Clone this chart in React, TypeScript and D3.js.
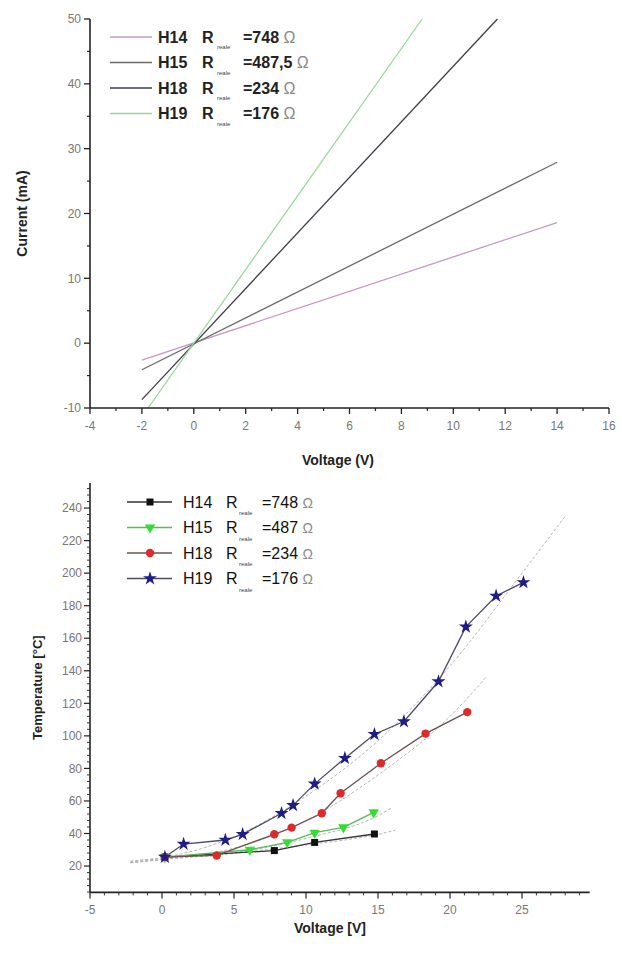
import React from "react";
import * as d3 from "d3";

// ---------- Top chart data (I–V lines) ----------
const ivNames = ["H14", "H15", "H18", "H19"];
const ivResist = ["748", "487,5", "234", "176"];
const ivColors = ["#c49ac4", "#6a6a6a", "#3e3e48", "#98d898"];
const ivVoltage = [
  [-2, 14],
  [-2, 14],
  [-2, 11.7],
  [-1.76, 8.8],
];
const ivCurrent = [
  [-2.6, 18.6],
  [-4.1, 27.9],
  [-8.7, 50],
  [-10, 50],
];
const topXTicks = [-4, -2, 0, 2, 4, 6, 8, 10, 12, 14, 16];
const topYTicks = [-10, 0, 10, 20, 30, 40, 50];

// ---------- Bottom chart data (T–V) ----------
const tNames = ["H14", "H15", "H18", "H19"];
const tResist = ["748", "487", "234", "176"];
const tMarkerColors = ["#111111", "#33dd33", "#dd2a2a", "#1c1c8a"];
const tLineColors = ["#333333", "#55bb55", "#6e5050", "#4a4a66"];
const tVoltage = [
  [0.2, 7.8, 10.6, 14.75],
  [0.2, 6.1, 8.7, 10.6, 12.6, 14.7],
  [0.2, 3.8, 7.8, 9.0, 11.1, 12.4, 15.2, 18.3, 21.2],
  [0.2, 1.5, 4.4, 5.6, 8.3, 9.1, 10.6, 12.7, 14.75, 16.8, 19.2, 21.1, 23.2, 25.1],
];
const tTemp = [
  [25.5, 29.5, 34.5, 39.7],
  [25.5, 30, 34.6, 40.5, 43.8, 53],
  [25.5, 26.5, 39.5, 43.6, 52.4, 64.7, 83.2, 101.4, 114.6],
  [25.5, 33.5, 36, 39.5, 52.4, 57.3, 70.5, 86.3, 101, 108.8, 133.4, 167, 186, 194.3],
];
// fitted (dotted) curves
const fitVoltage = [
  [-2.2, 0, 5, 10, 15, 16.2],
  [-2.2, 0, 5, 10, 15, 16],
  [-2.2, 0, 5, 10, 15, 20, 22.5],
  [-2.2, 0, 5, 10, 15, 20, 25, 28],
];
const fitTemp = [
  [23, 25, 28, 33, 39.5, 42],
  [22, 24, 28, 37, 51, 56],
  [22, 24, 31, 48, 76, 112, 136],
  [22.5, 25, 38, 63, 97, 143, 200, 235],
];
const botXTicks = [-5, 0, 5, 10, 15, 20, 25];
const botYTicks = [20, 40, 60, 80, 100, 120, 140, 160, 180, 200, 220, 240];

const FONT = "'Liberation Sans', Arial, sans-serif";

function Marker({ i, x, y }: { i: number; x: number; y: number }) {
  const c = tMarkerColors[i];
  if (i === 0) return <rect x={x - 3.5} y={y - 3.5} width={7} height={7} fill={c} />;
  if (i === 1)
    return (
      <path
        d={d3.symbol().type(d3.symbolTriangle).size(48)() || ""}
        transform={`translate(${x},${y}) rotate(180)`}
        fill={c}
      />
    );
  if (i === 2) return <circle cx={x} cy={y} r={4.2} fill={c} />;
  return (
    <path
      d={d3.symbol().type(d3.symbolStar).size(60)() || ""}
      transform={`translate(${x},${y})`}
      fill={c}
    />
  );
}

export default function App() {
  // top scales
  const tx = d3.scaleLinear().domain([-4, 16]).range([90, 609]);
  const ty = d3.scaleLinear().domain([-10, 50]).range([408, 19]);
  // bottom scales
  const bx = d3.scaleLinear().domain([-5, 29.7]).range([90, 589.7]);
  const by = d3.scaleLinear().domain([3.8, 255.4]).range([892.4, 483]);

  const topMinorX = d3.range(-3, 16, 2);
  const topMinorY = d3.range(-5, 50, 10);
  const botMinorX = d3.range(-4, 29.7, 1).filter((v) => v % 5 !== 0);
  const botMinorY = d3.range(4, 255.4, 4).filter((v) => v % 20 !== 0);

  const line = d3.line<[number, number]>();
  const fitLine = d3
    .line<[number, number]>()
    .curve(d3.curveMonotoneX)
    .x((d) => bx(d[0]))
    .y((d) => by(d[1]));

  const ty0 = ty(-10);
  const by0 = by(3.8);

  return (
    <svg
      width={622}
      height={953}
      style={{ position: "absolute", left: 0, top: 0, background: "#fff" }}
      fontFamily={FONT}
    >
      <rect width={622} height={953} fill="#fff" />
      {/* ================= TOP CHART ================= */}
      {ivVoltage.map((vs, i) => (
        <path
          key={"iv" + i}
          d={line(vs.map((v, k) => [tx(v), ty(ivCurrent[i][k])] as [number, number])) || ""}
          stroke={ivColors[i]}
          strokeWidth={1.3}
          fill="none"
        />
      ))}
      {/* axes */}
      <line x1={tx(-4)} x2={tx(-4)} y1={ty(50)} y2={ty0} stroke="#222" strokeWidth={1.6} />
      <line x1={tx(-4)} x2={tx(16)} y1={ty0} y2={ty0} stroke="#222" strokeWidth={1.6} />
      {topYTicks.map((v) => (
        <g key={"ty" + v}>
          <line x1={tx(-4) - 6} x2={tx(-4)} y1={ty(v)} y2={ty(v)} stroke="#222" strokeWidth={1.3} />
          <text x={tx(-4) - 9} y={ty(v)} dy="0.35em" textAnchor="end" fontSize={12} fill="#777">
            {v}
          </text>
        </g>
      ))}
      {topMinorY.map((v) => (
        <line key={"tmy" + v} x1={tx(-4) - 3} x2={tx(-4)} y1={ty(v)} y2={ty(v)} stroke="#222" strokeWidth={1.2} />
      ))}
      {topXTicks.map((v) => (
        <g key={"tx" + v}>
          <line x1={tx(v)} x2={tx(v)} y1={ty0} y2={ty0 + 6} stroke="#222" strokeWidth={1.3} />
          <text x={tx(v)} y={ty0 + 22} textAnchor="middle" fontSize={12} fill="#777">
            {v}
          </text>
        </g>
      ))}
      {topMinorX.map((v) => (
        <line key={"tmx" + v} x1={tx(v)} x2={tx(v)} y1={ty0} y2={ty0 + 3} stroke="#222" strokeWidth={1.2} />
      ))}
      <text x={338} y={465} textAnchor="middle" fontSize={14} fontWeight="bold" fill="#222">
        Voltage (V)
      </text>
      <text
        transform={`translate(27,${(ty(50) + ty0) / 2}) rotate(-90)`}
        textAnchor="middle"
        fontSize={14}
        fontWeight="bold"
        fill="#222"
      >
        Current (mA)
      </text>
      {/* top legend */}
      {ivNames.map((n, i) => {
        const y = 37 + i * 25.5;
        return (
          <g key={"tl" + i}>
            <line x1={110} x2={152} y1={y} y2={y} stroke={ivColors[i]} strokeWidth={1.4} />
            <text x={158} y={y} dy="0.36em" fontSize={16} fontWeight="bold" fill="#222">
              {n}
            </text>
            <text x={202} y={y} dy="0.36em" fontSize={16} fontWeight="bold" fill="#222">
              R
            </text>
            <text x={217} y={y + 12} fontSize={6} fill="#444">
              reale
            </text>
            <text x={243} y={y} dy="0.36em" fontSize={16} fontWeight="bold" fill="#222">
              {"=" + ivResist[i] + " "}
              <tspan fontWeight="normal" fill="#888">
                Ω
              </tspan>
            </text>
          </g>
        );
      })}

      {/* ================= BOTTOM CHART ================= */}
      {fitVoltage.map((vs, i) => (
        <path
          key={"fit" + i}
          d={fitLine(vs.map((v, k) => [v, fitTemp[i][k]] as [number, number])) || ""}
          stroke="#b4b4b4"
          strokeWidth={1}
          strokeDasharray="3,2"
          fill="none"
        />
      ))}
      {tVoltage.map((vs, i) => (
        <path
          key={"tl" + i}
          d={line(vs.map((v, k) => [bx(v), by(tTemp[i][k])] as [number, number])) || ""}
          stroke={tLineColors[i]}
          strokeWidth={1.3}
          fill="none"
        />
      ))}
      {tVoltage.map((vs, i) =>
        vs.map((v, k) => <Marker key={"m" + i + "_" + k} i={i} x={bx(v)} y={by(tTemp[i][k])} />)
      )}
      {/* axes */}
      <line x1={bx(-5)} x2={bx(-5)} y1={by(255.4)} y2={by0} stroke="#222" strokeWidth={1.6} />
      <line x1={bx(-5)} x2={bx(29.7)} y1={by0} y2={by0} stroke="#222" strokeWidth={1.6} />
      {botYTicks.map((v) => (
        <g key={"by" + v}>
          <line x1={bx(-5) - 6} x2={bx(-5)} y1={by(v)} y2={by(v)} stroke="#222" strokeWidth={1.2} />
          <text x={bx(-5) - 8} y={by(v)} dy="0.35em" textAnchor="end" fontSize={12} fill="#777">
            {v}
          </text>
        </g>
      ))}
      {botMinorY.map((v) => (
        <line key={"bmy" + v} x1={bx(-5) - 3} x2={bx(-5)} y1={by(v)} y2={by(v)} stroke="#333" strokeWidth={1} />
      ))}
      {botXTicks.map((v) => (
        <g key={"bx" + v}>
          <line x1={bx(v)} x2={bx(v)} y1={by0} y2={by0 + 6} stroke="#222" strokeWidth={1.2} />
          <text x={bx(v)} y={by0 + 22} textAnchor="middle" fontSize={12} fill="#777">
            {v}
          </text>
        </g>
      ))}
      {botMinorX.map((v) => (
        <line key={"bmx" + v} x1={bx(v)} x2={bx(v)} y1={by0} y2={by0 + 3} stroke="#333" strokeWidth={1} />
      ))}
      <text x={330} y={933} textAnchor="middle" fontSize={14} fontWeight="bold" fill="#222">
        Voltage [V]
      </text>
      <text
        transform={`translate(42,${(by(255.4) + by0) / 2}) rotate(-90)`}
        textAnchor="middle"
        fontSize={13}
        fontWeight="bold"
        fill="#222"
      >
        Temperature [°C]
      </text>
      {/* bottom legend */}
      {tNames.map((n, i) => {
        const y = 502 + i * 25.5;
        return (
          <g key={"bl" + i}>
            <line x1={127} x2={172} y1={y} y2={y} stroke={tLineColors[i]} strokeWidth={1.3} />
            <Marker i={i} x={150} y={y} />
            <text x={183} y={y} dy="0.36em" fontSize={16} fill="#111">
              {n}
            </text>
            <text x={226} y={y} dy="0.36em" fontSize={16} fill="#111">
              R
            </text>
            <text x={239} y={y + 13} fontSize={6} fill="#444">
              reale
            </text>
            <text x={262} y={y} dy="0.36em" fontSize={16} fill="#111">
              {"=" + tResist[i] + " "}
              <tspan fill="#888" fontSize={14}>
                Ω
              </tspan>
            </text>
          </g>
        );
      })}
    </svg>
  );
}
